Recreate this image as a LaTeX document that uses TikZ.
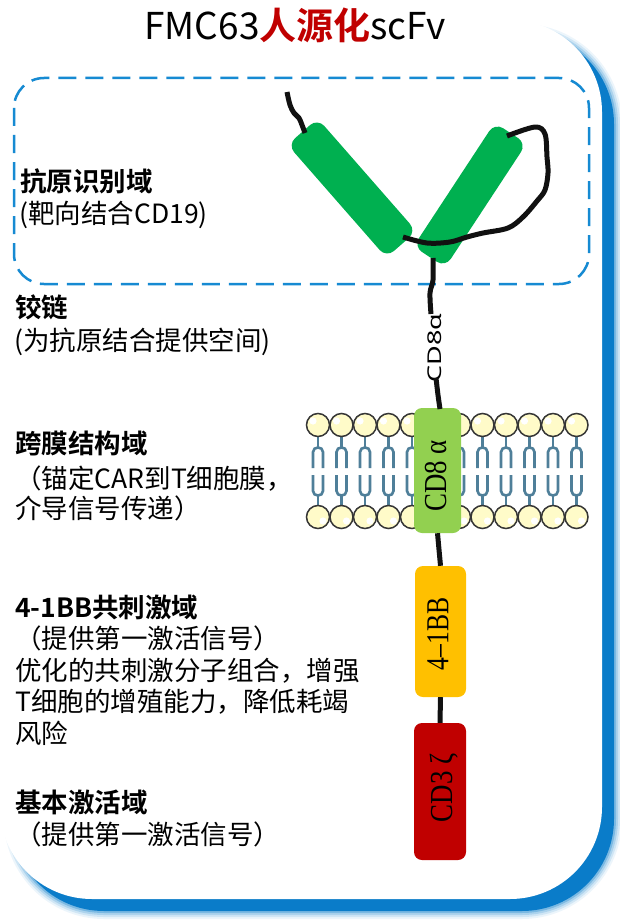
\documentclass[tikz,border=0pt]{standalone}
\usepackage{fontspec}
\newfontfamily\cjk{Noto Sans CJK SC}[BoldFont={Noto Sans CJK SC Bold}]
\newfontfamily\serifbox{Liberation Serif}
\newfontfamily\hingefont{Noto Sans}
\usetikzlibrary{calc}
\definecolor{shadowblue}{HTML}{0A7CC9}
\definecolor{dashblue}{HTML}{168AD2}
\definecolor{scfvgreen}{HTML}{00B050}
\definecolor{tmgreen}{HTML}{92D050}
\definecolor{bbgold}{HTML}{FFC000}
\definecolor{cdred}{HTML}{C00000}
\definecolor{headfill}{HTML}{FFFBC9}
\definecolor{headline}{HTML}{363636}
\definecolor{tailblue}{HTML}{4F7F99}
\definecolor{chainblack}{HTML}{111111}
\begin{document}
\begin{tikzpicture}[x=1pt,y=-1pt,
  chain/.style={draw=chainblack, line width=5pt, line join=round},
  domainbox/.style={draw=none, minimum width=#1, inner sep=0pt, rounded corners=8pt},
  boxlab/.style={rotate=90, inner sep=0pt, font=\serifbox\fontsize{32}{32}\selectfont, text height=0.66em, text depth=0pt},
  lab/.style={anchor=base west, inner sep=0pt, font=\cjk\fontsize{26.5}{26.5}\selectfont},
  labb/.style={anchor=base west, inner sep=0pt, font=\cjk\bfseries\fontsize{26.5}{26.5}\selectfont},
  head/.style={fill=headfill, draw=headline, line width=1.5pt},
  tail/.style={draw=tailblue, line width=2.6pt}]
\useasboundingbox (0,0) rectangle (620,923);

% card with soft blue drop shadow
\foreach \w/\o in {16/0.08,12/0.12,8/0.18,4/0.3}{
  \draw[shadowblue, line width=\w pt, opacity=\o, rounded corners=92pt] (12,32) rectangle (614,911);
}
\fill[shadowblue, rounded corners=92pt] (12,32) rectangle (614,911);
\fill[white, rounded corners=92pt] (0,20) rectangle (602,899);

% title
\node[anchor=base, inner sep=0pt, font=\cjk\fontsize{37}{37}\selectfont] (title) at (295,40)
  {FMC63{\bfseries\color{cdred}人源化}scFv};

% antigen-binding region frame
\draw[dashblue, line width=2.5pt, dash pattern=on 18pt off 9pt, rounded corners=30pt] (14,78) rectangle (589,284);

% lipid bilayer
\foreach \k in {0,...,11}{
  \pgfmathsetmacro\hx{318+23.5*\k}
  \draw[tail] (\hx,436) -- (\hx,447);
  \draw[tail] (\hx-5,468) -- (\hx-5,452) .. controls (\hx-5,446) and (\hx+5,446) .. (\hx+5,452) -- (\hx+5,468);
  \draw[tail] (\hx-5,475) -- (\hx-5,491) .. controls (\hx-5,497) and (\hx+5,497) .. (\hx+5,491) -- (\hx+5,475);
  \draw[tail] (\hx,496) -- (\hx,506);
  \draw[head] (\hx,425) circle (11.5);
  \fill[white] (\hx-5,421) circle (3.6);
  \draw[head] (\hx,517) circle (11.5);
  \fill[white] (\hx+5,521) circle (3.6);
}

% scFv domains
\begin{scope}[shift={(352,188)}, rotate=-48.8]
  \fill[scfvgreen, rounded corners=10pt] (-75,-20) rectangle (75,20);
\end{scope}
\begin{scope}[shift={(470,195)}, rotate=56.7]
  \fill[scfvgreen, rounded corners=10pt] (-74,-19) rectangle (74,19);
\end{scope}

% N-terminus and linker
\draw[chain] plot[smooth, tension=0.6] coordinates {(287,92) (290,105) (294,113) (299,118) (302,125) (305,133)};
\draw[chain] plot[smooth, tension=0.55] coordinates {(403,237) (427,243) (450,242) (467,237) (483,233) (508,228) (523,217) (537,201) (545,190) (548,173) (547,157) (545,134) (535,127) (507,136)};

% CD8 hinge
\node[rotate=90, inner sep=0pt, font=\hingefont\fontsize{19}{19}\selectfont] (hingelab) at (435,348) {\scalebox{1.42}[1]{CD8α}};
\coordinate (hingetop) at (433,258);
\coordinate (hingebend) at (430,293);
\draw[chain] plot[smooth, tension=0.6] coordinates {(hingetop) (433,280) (hingebend) (431,314)};

% CD8 alpha, 4-1BB and CD3 zeta boxes
\node[domainbox=47pt, minimum height=125pt, fill=tmgreen] (tm) at (437.5,470.5) {};
\node[domainbox=51pt, minimum height=131pt, fill=bbgold] (bb) at (440.5,631.5) {};
\node[domainbox=52pt, minimum height=137pt, fill=cdred] (cd3) at (440,791.5) {};

\draw[chain] plot[smooth, tension=0.6] coordinates {(436,378) (438,395) (440,409)};
\draw[chain] (tm.south) -- (bb.north);
\draw[chain] (bb.south) -- (cd3.north);

\node[boxlab] (tmlab) at (443.5,476) {\scalebox{0.84}[1]{CD8 α}};
\node[boxlab] (bblab) at (445,634) {\scalebox{0.8}[1]{4–1BB}};
\node[boxlab] (cd3lab) at (449.5,788) {\scalebox{0.84}[1]{CD3 ζ}};

% domain descriptions
\node[labb] (l1) at (20,191) {抗原识别域};
\node[lab]  (l2) at (19,223) {(靶向结合CD19)};
\node[labb] (l3) at (15,317) {铰链};
\node[lab]  (l4) at (14,350) {(为抗原结合提供空间)};
\node[labb] (l5) at (15,453) {跨膜结构域};
\node[lab]  (l6) at (15,488) {（锚定CAR到T细胞膜，};
\node[lab]  (l7) at (15,518) {介导信号传递）};
\node[labb] (l8) at (15,617) {4-1BB共刺激域};
\node[lab]  (l9) at (15,648) {（提供第一激活信号）};
\node[lab]  (l10) at (15,680) {优化的共刺激分子组合，增强};
\node[lab]  (l11) at (15,711) {T细胞的增殖能力，降低耗竭};
\node[lab]  (l12) at (15,743) {风险};
\node[labb] (l13) at (15,812) {基本激活域};
\node[lab]  (l14) at (15,844) {（提供第一激活信号）};
\end{tikzpicture}
\end{document}
